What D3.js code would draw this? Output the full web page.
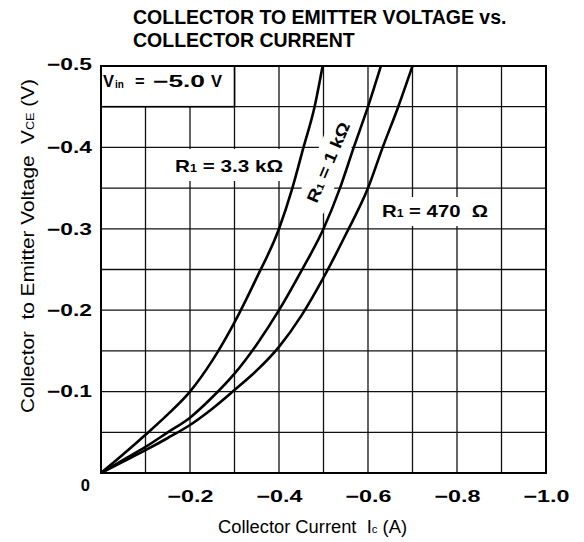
<!DOCTYPE html>
<html>
<head>
<meta charset="utf-8">
<script src="https://cdn.jsdelivr.net/npm/d3@7"></script>
<style>
  html, body { margin: 0; padding: 0; background: #fff; }
  svg { display: block; }
  text { font-family: "Liberation Sans", Arial, Helvetica, sans-serif; fill: #000; white-space: pre; }
</style>
</head>
<body>
<svg id="chart" width="584" height="542"></svg>
<script>
// ---------------- data ----------------
const titleLines = ["COLLECTOR TO EMITTER VOLTAGE vs.", "COLLECTOR CURRENT"];
const currentTicks = [-0.2, -0.4, -0.6, -0.8, -1.0];
const voltageTicks = [-0.5, -0.4, -0.3, -0.2, -0.1];
const gridCurrent = [-0.1, -0.2, -0.3, -0.4, -0.5, -0.6, -0.7, -0.8, -0.9];
const gridVoltage = [-0.05, -0.1, -0.15, -0.2, -0.25, -0.3, -0.35, -0.4, -0.45];

// R1 = 3.3 kΩ
const current3k3 = [0, -0.05, -0.1, -0.15, -0.2, -0.25, -0.3, -0.35, -0.4, -0.43, -0.455, -0.48, -0.498];
const voltage3k3 = [0, -0.023, -0.047, -0.072, -0.1, -0.138, -0.185, -0.24, -0.3, -0.35, -0.4, -0.45, -0.5];
// R1 = 1 kΩ
const current1k = [0, -0.05, -0.1, -0.15, -0.2, -0.25, -0.3, -0.35, -0.4, -0.45, -0.5, -0.537, -0.568, -0.6, -0.629];
const voltage1k = [0, -0.016, -0.032, -0.05, -0.068, -0.093, -0.122, -0.158, -0.2, -0.248, -0.3, -0.35, -0.4, -0.45, -0.5];
// R1 = 470 Ω
const current470 = [0, -0.05, -0.1, -0.15, -0.2, -0.25, -0.3, -0.35, -0.4, -0.45, -0.5, -0.55, -0.6, -0.633, -0.668, -0.7];
const voltage470 = [0, -0.014, -0.028, -0.043, -0.059, -0.079, -0.102, -0.126, -0.155, -0.193, -0.24, -0.293, -0.35, -0.4, -0.45, -0.5];

// ---------------- layout ----------------
const svg = d3.select("#chart");
const pLeft = 101, pRight = 546, pTop = 66, pBottom = 473;
const x = d3.scaleLinear().domain([0, -1]).range([pLeft, pRight]);
const y = d3.scaleLinear().domain([0, -0.5]).range([pBottom, pTop]);
const FONT = '"Liberation Sans", Arial, Helvetica, sans-serif';

svg.append("rect").attr("width", 584).attr("height", 542).attr("fill", "#fff");

// title
svg.selectAll("text.title").data(titleLines).join("text")
  .attr("class", "title")
  .attr("x", 133)
  .attr("y", (d, i) => 24 + i * 22.7)
  .attr("font-size", 19.5)
  .attr("font-weight", "bold")
  .text(d => d);

// grid
const grid = svg.append("g");
grid.selectAll("line.gx").data(gridCurrent).join("line")
  .attr("class", "gx")
  .attr("x1", d => x(d)).attr("x2", d => x(d))
  .attr("y1", y(0)).attr("y2", y(-0.5))
  .attr("stroke", "#111").attr("stroke-width", 1.3);
grid.selectAll("line.gy").data(gridVoltage).join("line")
  .attr("class", "gy")
  .attr("y1", d => y(d)).attr("y2", d => y(d))
  .attr("x1", x(0)).attr("x2", x(-1))
  .attr("stroke", "#111").attr("stroke-width", 1.3);

// label masks (white backgrounds hiding grid behind the curve labels)
const masks = svg.append("g").attr("fill", "#fff");
masks.append("rect").attr("x", 170).attr("y", 149).attr("width", 120).attr("height", 32);
masks.append("rect").attr("x", 376).attr("y", 197).attr("width", 122).attr("height", 29);
masks.append("rect").attr("x", -50).attr("y", -15).attr("width", 100).attr("height", 30)
  .attr("transform", "translate(329,162) rotate(-67)");

// Vin box
svg.append("rect")
  .attr("x", x(0)).attr("y", y(-0.5))
  .attr("width", x(-0.3) - x(0)).attr("height", y(-0.45) - y(-0.5))
  .attr("fill", "#fff").attr("stroke", "#000").attr("stroke-width", 1.6);
const vin = svg.append("g").attr("font-weight", "bold");
vin.append("text").attr("x", 103).attr("y", 87).attr("font-size", 16.5).text("V");
vin.append("text").attr("x", 115).attr("y", 88).attr("font-size", 10).text("in");
vin.append("text").attr("x", 135).attr("y", 87).attr("font-size", 16.5).text("=");
vin.append("text").attr("x", 153).attr("y", 87).attr("font-size", 16.5)
  .attr("textLength", 52).attr("lengthAdjust", "spacingAndGlyphs").text("\u22125.0");
vin.append("text").attr("x", 211).attr("y", 87).attr("font-size", 16.5).text("V");

// curves
svg.append("clipPath").attr("id", "plotclip").append("rect")
  .attr("x", pLeft).attr("y", pTop).attr("width", pRight - pLeft).attr("height", pBottom - pTop);
const line = d3.line().x(d => x(d[0])).y(d => y(d[1])).curve(d3.curveMonotoneX);
const curves = [
  d3.zip(current3k3, voltage3k3),
  d3.zip(current1k, voltage1k),
  d3.zip(current470, voltage470)
];
svg.append("g").attr("clip-path", "url(#plotclip)")
  .selectAll("path").data(curves).join("path")
  .attr("d", line)
  .attr("fill", "none").attr("stroke", "#000").attr("stroke-width", 2.6)
  .attr("stroke-linecap", "round");

// curve labels
function rLabel(g, value, len) {
  const t = g.append("text").attr("font-size", 16.5).attr("font-weight", "bold");
  t.append("tspan").text("R");
  t.append("tspan").attr("font-size", 10).text("1");
  t.append("tspan").text(value);
  if (len) t.attr("textLength", len).attr("lengthAdjust", "spacingAndGlyphs");
  return t;
}
rLabel(svg.append("g").attr("transform", "translate(175,172)"), " = 3.3 k\u03A9", 108);
rLabel(svg.append("g").attr("transform", "translate(382,217)"), " = 470  \u03A9", 106);
rLabel(svg.append("g").attr("transform", "translate(333.5,164.5) rotate(-67)"), " = 1 k\u03A9", 86)
  .attr("text-anchor", "middle");

// frame
svg.append("rect")
  .attr("x", pLeft).attr("y", pTop).attr("width", pRight - pLeft).attr("height", pBottom - pTop)
  .attr("fill", "none").attr("stroke", "#000").attr("stroke-width", 2);

// axes (tick labels)
const fmt = d => "\u2212" + Math.abs(d).toFixed(1);
const xAxis = svg.append("g").attr("transform", `translate(0,${y(0)})`)
  .call(d3.axisBottom(x).tickValues(currentTicks).tickSize(0).tickPadding(17).tickFormat(fmt));
xAxis.select(".domain").remove();
xAxis.selectAll("text").attr("font-family", FONT).attr("font-size", 16.5).attr("font-weight", "bold")
  .attr("fill", "#000").attr("textLength", 46).attr("lengthAdjust", "spacingAndGlyphs");

const yAxis = svg.append("g").attr("transform", `translate(${x(0)},0)`)
  .call(d3.axisLeft(y).tickValues(voltageTicks).tickSize(0).tickPadding(9).tickFormat(fmt));
yAxis.select(".domain").remove();
yAxis.selectAll("text").attr("font-family", FONT).attr("font-size", 16.5).attr("font-weight", "bold")
  .attr("fill", "#000").attr("textLength", 45).attr("lengthAdjust", "spacingAndGlyphs");
yAxis.selectAll(".tick").filter(d => d === -0.5).select("text").attr("y", -2);

// origin label
svg.append("text").attr("x", x(0) - 11).attr("y", y(0) + 17.5)
  .attr("text-anchor", "end").attr("font-size", 16.5).attr("font-weight", "bold").text("0");

// axis titles
const xt = svg.append("text").attr("x", 218).attr("y", 533).attr("font-size", 17.5)
  .attr("textLength", 189).attr("lengthAdjust", "spacingAndGlyphs");
xt.append("tspan").text("Collector Current  I");
xt.append("tspan").attr("font-size", 11).text("c");
xt.append("tspan").text(" (A)");

const yt = svg.append("text").attr("transform", "translate(34,413) rotate(-90)").attr("font-size", 18)
  .attr("textLength", 334).attr("lengthAdjust", "spacingAndGlyphs");
yt.append("tspan").text("Collector  to Emitter Voltage  V");
yt.append("tspan").attr("font-size", 11).text("CE");
yt.append("tspan").text(" (V)");
</script>
</body>
</html>
